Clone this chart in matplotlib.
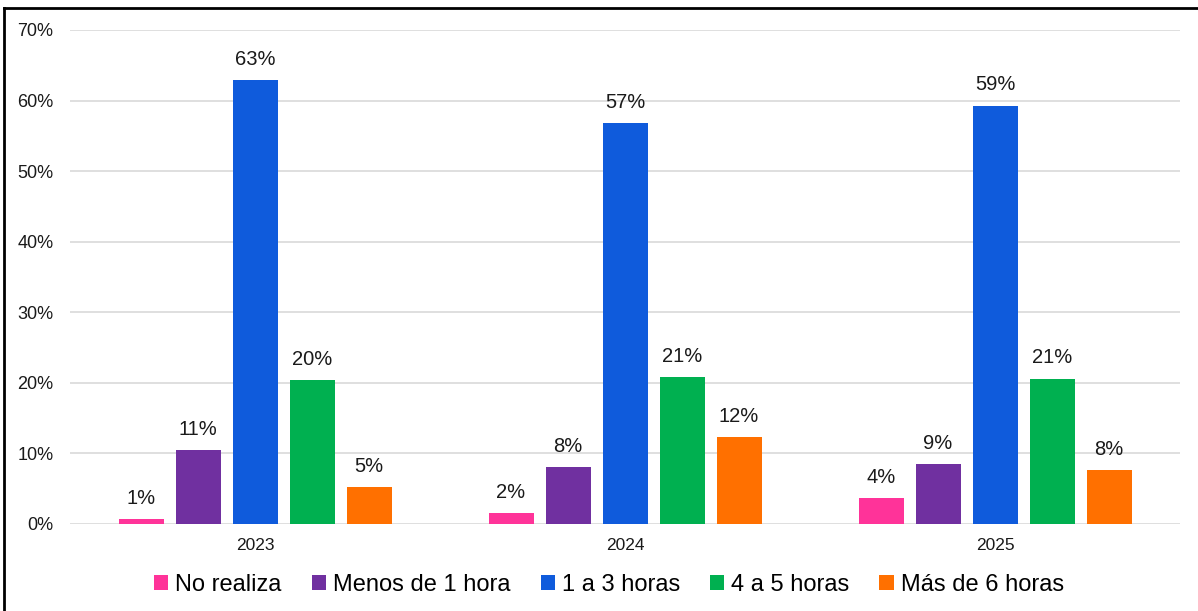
import matplotlib

matplotlib.use("Agg")
import matplotlib.pyplot as plt
import numpy as np
from matplotlib.lines import Line2D
from matplotlib.ticker import FuncFormatter

plt.rcParams["font.family"] = ["Liberation Sans", "DejaVu Sans"]

# ---- data ------------------------------------------------------------------
years = ["2023", "2024", "2025"]
series = ["No realiza", "Menos de 1 hora", "1 a 3 horas", "4 a 5 horas", "Más de 6 horas"]
no_realiza = [0.7, 1.5, 3.7]
menos_1 = [10.5, 8.1, 8.5]
de_1_a_3 = [62.9, 56.8, 59.3]
de_4_a_5 = [20.4, 20.8, 20.6]
mas_6 = [5.2, 12.3, 7.6]
values = [no_realiza, menos_1, de_1_a_3, de_4_a_5, mas_6]
colors = ["#FF3399", "#7030A0", "#0F5BDC", "#00B050", "#FF7000"]
yticks = [0, 10, 20, 30, 40, 50, 60, 70]

W, H = 1198, 611
fig = plt.figure(figsize=(W / 100, H / 100), dpi=100)
ax = fig.add_axes([70 / W, 87 / H, 1110 / W, 494 / H])

x = np.arange(len(years))
bw = 45 / 370
step = 57 / 370
for i, (name, vals, c) in enumerate(zip(series, values, colors)):
    pos = x + (i - 2) * step
    bars = ax.bar(pos, vals, width=bw, color=c, label=name, zorder=3)
    for b, v in zip(bars, vals):
        ax.text(b.get_x() + b.get_width() / 2, v + 1.6, f"{int(v + 0.5)}%",
                ha="center", va="bottom", fontsize=14.5, color="#1a1a1a", zorder=4)

ax.set_xlim(-0.5, 2.5)
ax.set_ylim(0, 70)
ax.set_yticks(yticks)
ax.yaxis.set_major_formatter(FuncFormatter(lambda v, _: f"{v:.0f}%"))
ax.set_xticks(x)
ax.set_xticklabels(years)
ax.tick_params(axis="y", length=0, labelsize=13, pad=12, colors="#1a1a1a")
ax.tick_params(axis="x", length=0, labelsize=12.5, pad=10, colors="#1a1a1a")
ax.grid(axis="y", color="#d9d9d9", lw=1.2, zorder=0)
for s in ax.spines.values():
    s.set_visible(False)

ax.legend(loc="center", bbox_to_anchor=(609 / W, 26 / H), bbox_transform=fig.transFigure,
          ncol=5, frameon=False, fontsize=17, handlelength=0.6, handleheight=0.6,
          handletextpad=0.3, columnspacing=1.27, borderaxespad=0)

# black frame around the chart (top and left visible)
fig.add_artist(Line2D([4 / W, 1.0], [1 - 8 / H, 1 - 8 / H], color="black", lw=2,
                      transform=fig.transFigure))
fig.add_artist(Line2D([4 / W, 4 / W], [0, 1 - 8 / H], color="black", lw=2,
                      transform=fig.transFigure))

fig.savefig("out.png", dpi=100)
